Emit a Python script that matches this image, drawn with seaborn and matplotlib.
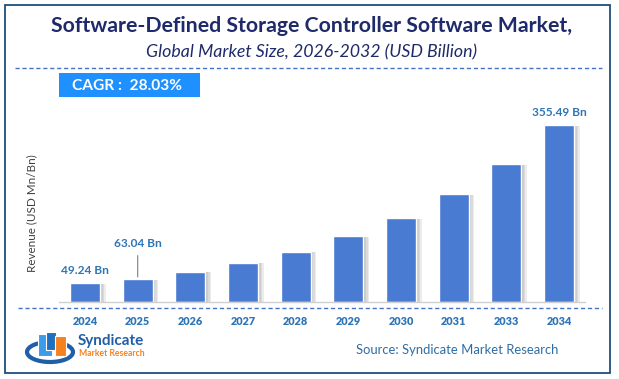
import numpy as np
import pandas as pd
import matplotlib
matplotlib.use("Agg")
import matplotlib.pyplot as plt
import matplotlib.patheffects as pe
from matplotlib.patches import Rectangle, Ellipse
from matplotlib.lines import Line2D
import seaborn as sns

# =========================
# data
# =========================
years = ["2024", "2025", "2026", "2027", "2028", "2029", "2030", "2031", "2033", "2034"]
revenue = [37.6, 46.2, 60.9, 78.9, 101.0, 132.0, 168.7, 216.3, 277.2, 355.49]
label_years = ["2024", "2025", "2034"]
label_text = ["49.24 Bn", "63.04 Bn", "355.49 Bn"]

title = "Software-Defined Storage Controller Software Market,"
subtitle = "Global Market Size, 2026-2032 (USD Billion)"
cagr_text = "CAGR :  28.03%"
ylabel = "Revenue (USD Mn/Bn)"
source = "Source: Syndicate Market Research"

# =========================
# style
# =========================
W, H = 619, 379
bar_color = "#4a7bd3"
label_color = "#2e75b6"
navy = "#1f2a6b"

sns.set_theme(style="white")
plt.rcParams["font.family"] = ["Lato", "DejaVu Sans"]


def fx(x):
    return x / W


def fy(y):
    return 1 - y / H


df = pd.DataFrame({"year": years, "revenue": revenue})

fig = plt.figure(figsize=(W / 100, H / 100), dpi=100)
ax = fig.add_axes([fx(58.7), fy(302), (585.3 - 58.7) / W, 197 / H])

sns.barplot(data=df, x="year", y="revenue", color=bar_color, width=0.57,
            saturation=1, ax=ax)
# soft shadow on the right side of each bar
shadow = [pe.SimplePatchShadow(offset=(k, -0.5), shadow_rgbFace="#707070", alpha=0.13)
          for k in (4, 3, 2, 1)]
for p in ax.patches:
    p.set_path_effects(shadow + [pe.Normal()])

ax.set_ylim(0, 197 * 355.49 / 177)
ax.set_xlim(-0.5, len(years) - 0.5)
ax.set_xlabel("")
ax.set_ylabel("")
ax.set_yticks([])
for s in ["top", "left", "right"]:
    ax.spines[s].set_visible(False)
ax.spines["bottom"].set_color("#d0d0d0")
ax.spines["bottom"].set_linewidth(1)
ax.tick_params(axis="x", length=0, pad=10)
for t in ax.get_xticklabels():
    t.set_fontweight("heavy")
    t.set_color(label_color)
    t.set_fontsize(7.8)

# value labels
for yr, txt in zip(label_years, label_text):
    i = years.index(yr)
    v = revenue[i]
    if yr == "2025":
        ax.annotate(txt, xy=(i, v), xytext=(0, 35 * 0.72), textcoords="offset points",
                    ha="center", va="center", fontsize=8.6, fontweight="bold", color=label_color,
                    arrowprops=dict(arrowstyle="-", color="#808080", lw=0.8,
                                    relpos=(0.5, 0), shrinkA=2, shrinkB=1.5))
    else:
        ax.annotate(txt, xy=(i, v), xytext=(0, 13 * 0.72), textcoords="offset points",
                    ha="center", va="center", fontsize=8.6, fontweight="bold", color=label_color)

# =========================
# frame, titles, decorations
# =========================
fig.patches.append(Rectangle((fx(5), fy(373)), (610 - 5) / W, (373 - 5) / H, transform=fig.transFigure,
                             fill=False, edgecolor="#1f4e79", lw=1.3))
fig.lines.append(Line2D([fx(15), fx(602)], [fy(68), fy(68)], transform=fig.transFigure,
                        color="#4472c4", lw=1, dashes=(3, 2)))
fig.lines.append(Line2D([fx(18), fx(602)], [fy(308), fy(308)], transform=fig.transFigure,
                        color="#4472c4", lw=1, dashes=(3, 2)))

fig.text(fx(312), fy(26), title, ha="center", va="center", fontsize=15.3,
         fontweight="bold", color=navy)
fig.text(fx(312), fy(52), subtitle, ha="center", va="center", fontsize=12.8,
         fontstyle="italic", color=navy)

fig.patches.append(Rectangle((fx(59), fy(97)), (200 - 59) / W, 24 / H, transform=fig.transFigure,
                             facecolor="#1e90ff", edgecolor="none"))
fig.text(fx(72), fy(85.5), cagr_text, ha="left", va="center", fontsize=11.2,
         fontweight="bold", color="white")

fig.text(fx(32), fy(213), ylabel, ha="center", va="center", rotation=90,
         fontsize=8.4, color="#404040")

fig.text(fx(457), fy(350), source, ha="center", va="center", fontsize=9.4,
         color="#2e6da4")

# logo
fig.patches.append(Ellipse((fx(50), fy(352)), 46 / W, 20 / H, transform=fig.transFigure,
                           fill=False, edgecolor="#1f5fa8", lw=3))
fig.patches.append(Rectangle((fx(38), fy(356)), 14 / W, 22 / H, transform=fig.transFigure,
                             facecolor="#3d9be9", edgecolor="white", lw=0.8))
fig.patches.append(Rectangle((fx(46), fy(350)), 10 / W, 18 / H, transform=fig.transFigure,
                             facecolor="#1f6fc0", edgecolor="white", lw=0.8))
fig.patches.append(Rectangle((fx(55), fy(356)), 11 / W, 20 / H, transform=fig.transFigure,
                             facecolor="#f5821f", edgecolor="white", lw=0.8))
fig.text(fx(78), fy(341), "Syndicate", ha="left", va="center", fontsize=11,
         fontweight="bold", color="#1f5fa8")
fig.text(fx(79), fy(354), "Market Research", ha="left", va="center", fontsize=6.2,
         fontweight="bold", color="#f5821f")

fig.savefig("out.png", dpi=100)
